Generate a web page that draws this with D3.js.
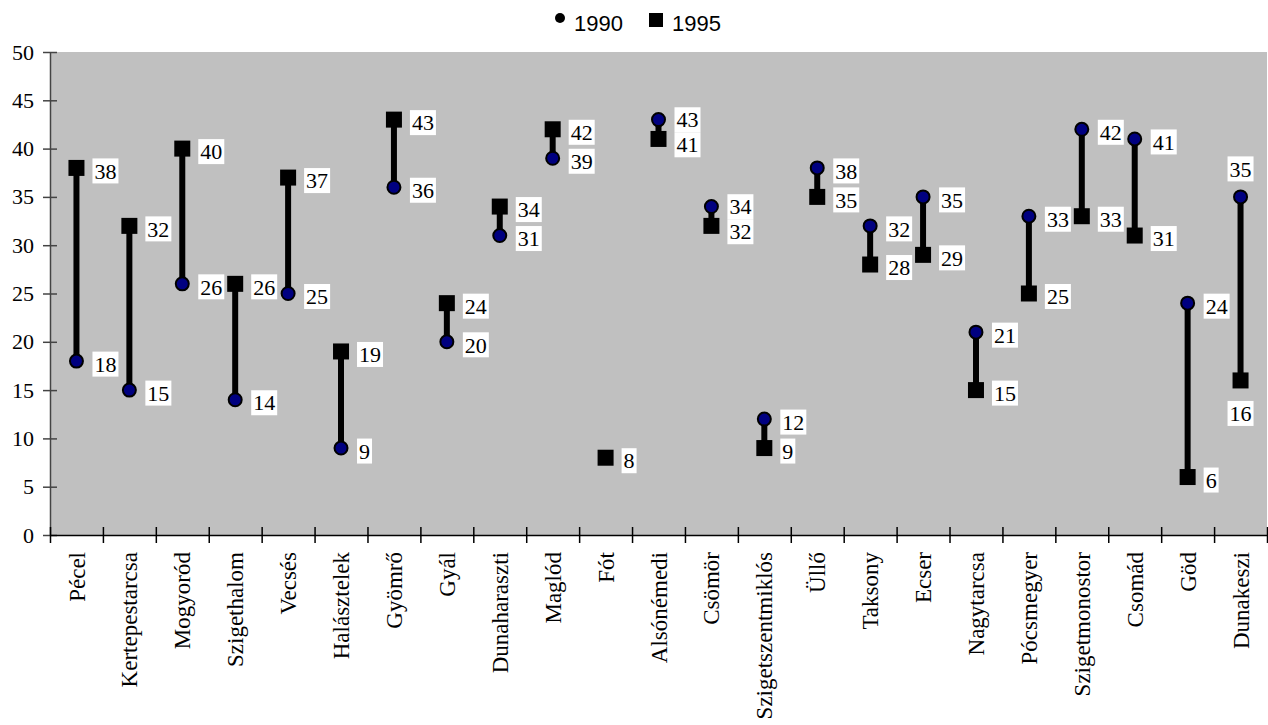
<!DOCTYPE html>
<html>
<head>
<meta charset="utf-8">
<script src="https://cdn.jsdelivr.net/npm/d3@7"></script>
<style>
  body { margin: 0; background: #fff; }
  svg { display: block; }
</style>
</head>
<body>
<div id="chart-container"></div>
<script>
// towns on the category axis
var towns = ['Pécel', 'Kertepestarcsa', 'Mogyoród', 'Szigethalom', 'Vecsés', 'Halásztelek',
  'Gyömrő', 'Gyál', 'Dunaharaszti', 'Maglód', 'Fót', 'Alsónémedi', 'Csömör',
  'Szigetszentmiklós', 'Üllő', 'Taksony', 'Ecser', 'Nagytarcsa', 'Pócsmegyer',
  'Szigetmonostor', 'Csomád', 'Göd', 'Dunakeszi'];

// series values (null = no value)
var v1990 = [18, 15, 26, 14, 25, 9, 36, 20, 31, 39, null, 43, 34, 12, 38, 32, 35, 21, 33, 42, 41, 24, 35];
var v1995 = [38, 32, 40, 26, 37, 19, 43, 24, 34, 42, 8, 41, 32, 9, 35, 28, 29, 15, 25, 33, 31, 6, 16];

var yTicks = [0, 5, 10, 15, 20, 25, 30, 35, 40, 45, 50];

visualise();

function visualise() {
  const svgWidth = 1268;
  const svgHeight = 725;
  const plot = {left: 50, right: 1267, top: 52, bottom: 535};
  const serif = '"Liberation Serif", "Times New Roman", serif';

  const svg = d3.select('#chart-container')
    .append('svg')
    .attr('width', svgWidth)
    .attr('height', svgHeight);

  const x = d3.scaleBand().domain(towns).range([plot.left, plot.right]);
  const xEdge = d3.scaleLinear().domain([0, towns.length]).range([plot.left, plot.right]);
  const y = d3.scaleLinear().domain([0, 50]).range([plot.bottom, plot.top]);

  // grey plot area
  svg.append('rect')
    .attr('x', plot.left).attr('y', plot.top)
    .attr('width', plot.right - plot.left)
    .attr('height', plot.bottom - plot.top)
    .attr('fill', '#c0c0c0');

  // y axis
  const yAxis = svg.append('g')
    .attr('transform', 'translate(' + plot.left + ',0)')
    .call(d3.axisLeft(y).tickValues(yTicks).tickSizeInner(7).tickSizeOuter(0).tickPadding(9));
  yAxis.select('.domain').attr('stroke', '#444').attr('stroke-width', 1.5);
  yAxis.selectAll('.tick line').attr('x1', 7).attr('x2', -7).attr('stroke', '#444').attr('stroke-width', 1.5);
  yAxis.selectAll('.tick text')
    .attr('font-family', serif)
    .attr('font-size', 22).attr('fill', '#000');

  // x axis (ticks between categories)
  const xAxis = svg.append('g')
    .attr('transform', 'translate(0,' + plot.bottom + ')')
    .call(d3.axisBottom(xEdge).tickValues(d3.range(0, towns.length + 1)).tickFormat('').tickSizeOuter(0));
  xAxis.select('.domain').attr('stroke', '#000').attr('stroke-width', 1.5);
  xAxis.selectAll('.tick line').attr('y1', -8).attr('y2', 8).attr('stroke', '#000').attr('stroke-width', 1.5);

  svg.append('g').selectAll('text')
    .data(towns)
    .enter()
    .append('text')
    .attr('transform', function(d) {
      return 'translate(' + (x(d) + x.bandwidth() / 2) + ',' + (plot.bottom + 17) + ') rotate(-90)';
    })
    .attr('text-anchor', 'end')
    .attr('dy', '0.35em')
    .attr('font-family', serif)
    .attr('font-size', 23)
    .text(function(d) { return d; });

  const rows = towns.map(function(t, i) {
    return {town: t, i: i, a: v1990[i], b: v1995[i]};
  });
  const cx = function(d) { return x(d.town) + x.bandwidth() / 2; };

  // connecting bars
  svg.append('g').selectAll('line')
    .data(rows.filter(function(d) { return d.a != null && d.b != null; }))
    .enter()
    .append('line')
    .attr('x1', cx).attr('x2', cx)
    .attr('y1', function(d) { return y(d.a); })
    .attr('y2', function(d) { return y(d.b); })
    .attr('stroke', '#000')
    .attr('stroke-width', 6);

  // 1990 circles
  svg.append('g').selectAll('circle')
    .data(rows.filter(function(d) { return d.a != null; }))
    .enter()
    .append('circle')
    .attr('cx', cx)
    .attr('cy', function(d) { return y(d.a); })
    .attr('r', 6.5)
    .attr('fill', '#000080')
    .attr('stroke', '#000')
    .attr('stroke-width', 2);

  // 1995 squares
  svg.append('g').selectAll('rect')
    .data(rows.filter(function(d) { return d.b != null; }))
    .enter()
    .append('rect')
    .attr('x', function(d) { return cx(d) - 8; })
    .attr('y', function(d) { return y(d.b) - 8; })
    .attr('width', 16).attr('height', 16)
    .attr('fill', '#000');

  // data labels
  const boxH = 25;
  const last = towns.length - 1;
  const lg = svg.append('g');

  function addLabel(px, ty, v, anchor) {
    const g = lg.append('g');
    const t = g.append('text')
      .attr('font-family', serif)
      .attr('font-size', 22)
      .attr('x', px)
      .attr('y', ty)
      .attr('dy', '0.35em')
      .attr('text-anchor', anchor)
      .text(v);
    const bb = t.node().getBBox();
    g.insert('rect', 'text')
      .attr('x', bb.x - 2).attr('y', ty - boxH / 2)
      .attr('width', bb.width + 4).attr('height', boxH)
      .attr('fill', '#fff');
  }

  rows.forEach(function(d) {
    const px = cx(d);
    if (d.i === last) {
      // no room on the right: above the top, below the bottom
      const hi = Math.max(d.a, d.b), lo = Math.min(d.a, d.b);
      addLabel(px, y(hi) - 28, hi, 'middle');
      addLabel(px, y(lo) + 33, lo, 'middle');
      return;
    }
    let ya = d.a != null ? y(d.a) + 3 : null;
    let yb = d.b != null ? y(d.b) + 3 : null;
    if (ya != null && yb != null && Math.abs(ya - yb) < boxH) {
      // push close labels apart
      const mid = (ya + yb) / 2;
      const s = ya < yb ? -1 : 1;
      ya = mid + s * boxH / 2;
      yb = mid - s * boxH / 2;
    }
    if (ya != null) addLabel(px + 18, ya, d.a, 'start');
    if (yb != null) addLabel(px + 18, yb, d.b, 'start');
  });

  // legend
  const legend = svg.append('g')
    .attr('font-family', '"Liberation Sans", Arial, sans-serif')
    .attr('font-size', 22);
  legend.append('circle').attr('cx', 560).attr('cy', 18).attr('r', 5).attr('fill', '#000');
  legend.append('text').attr('x', 574).attr('y', 31).text('1990');
  legend.append('rect').attr('x', 649).attr('y', 13).attr('width', 14).attr('height', 14).attr('fill', '#000');
  legend.append('text').attr('x', 672).attr('y', 31).text('1995');
}
</script>
</body>
</html>
